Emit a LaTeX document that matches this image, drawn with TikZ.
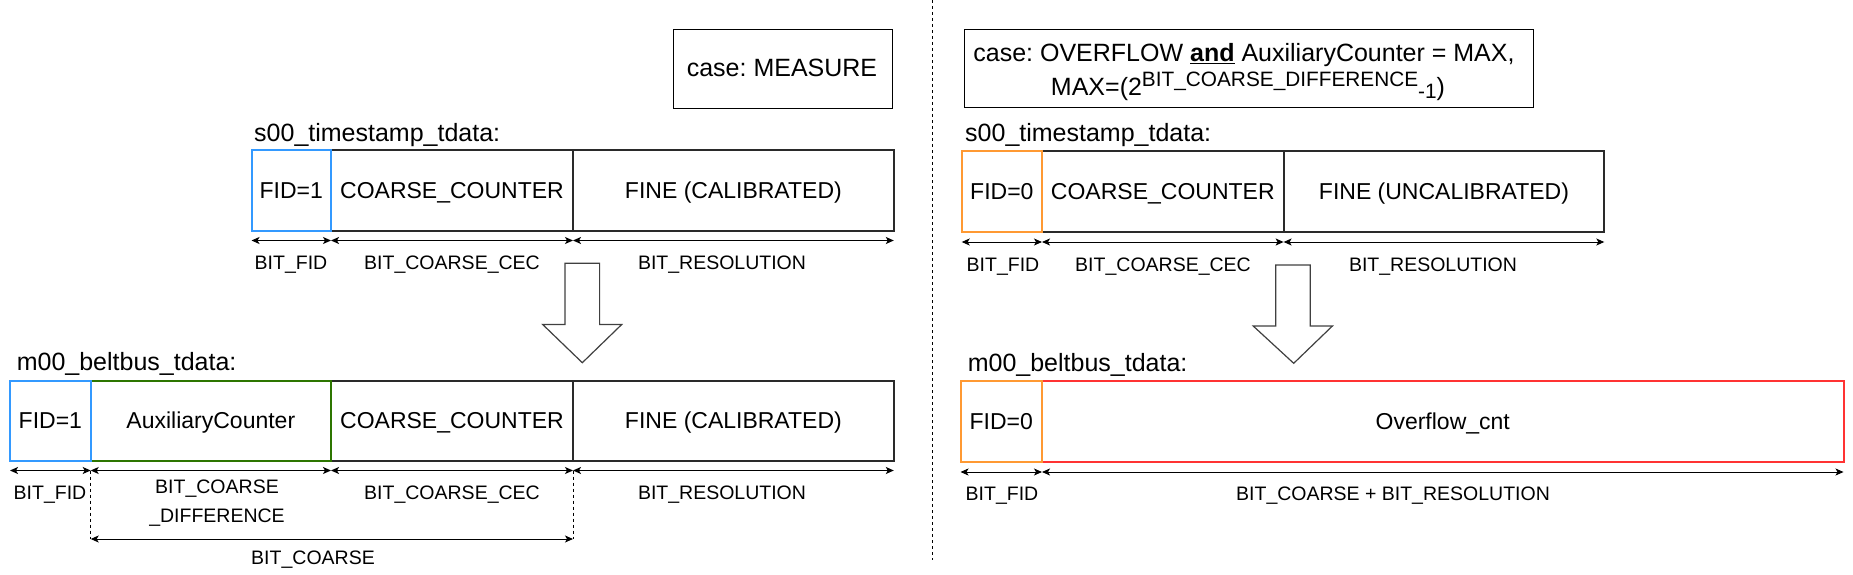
\documentclass[tikz,border=0pt]{standalone}
\usepackage{fontspec}
\setmainfont{Liberation Sans}
\usetikzlibrary{arrows.meta}
\definecolor{fidblue}{HTML}{3399FF}
\definecolor{auxgreen}{HTML}{2D7600}
\definecolor{fidorange}{HTML}{FF9933}
\definecolor{ovred}{HTML}{FF3333}
\definecolor{boxblack}{HTML}{2A2A2A}
\frenchspacing
\begin{document}
\begin{tikzpicture}[x=1pt,y=-1pt,
  fld/.style={draw=boxblack, line width=2pt, inner sep=0pt, outer sep=0pt, anchor=north west,
    text height=16.5pt, text depth=0pt, font=\fontsize{23}{27}\selectfont},
  ttl/.style={anchor=base west, inner sep=0pt, font=\fontsize{25}{30}\selectfont},
  casetxt/.style={anchor=base, inner sep=0pt, font=\fontsize{25}{30}\selectfont},
  lbl/.style={anchor=base, inner sep=0pt, font=\fontsize{19.5}{23}\selectfont},
  dim/.style={line width=1pt, {Stealth[length=8pt,width=7pt,inset=2pt]}-{Stealth[length=8pt,width=7pt,inset=2pt]}},
  casebox/.style={draw, line width=1pt, inner sep=0pt, outer sep=0pt, anchor=north west},
  guide/.style={line width=1pt, dash pattern=on 3pt off 3pt},
  blockarrow/.style={draw=black!75, line width=1.2pt, fill=white, line join=miter}
]
\useasboundingbox (0,0) rectangle (1853,575);

% separator
\coordinate (sepTop) at (932,0);
\coordinate (sepBot) at (932,560);
\draw[guide] (sepTop) -- (sepBot);

% ---------- left: case MEASURE ----------
\node[casebox, minimum width=219.6pt, minimum height=79pt] (caseM) at (673,30) {};
\node[casetxt] (caseMt) at (782,77) {case: MEASURE};

\node[ttl] (ts) at (254,142) {s00\_timestamp\_tdata:};
\node[fld, minimum width=242pt, minimum height=80pt] (tCoarse) at (331,150.5) {COARSE\_COUNTER};
\node[fld, minimum width=320.8pt, minimum height=80pt] (tFine) at (573,150.5) {FINE (CALIBRATED)};
\node[fld, draw=fidblue, minimum width=79.5pt, minimum height=80pt] (tFid) at (251.5,150.5) {FID=1};

\draw[dim] ([yshift=-10pt]tFid.south west) -- ([yshift=-10pt]tFid.south east);
\draw[dim] ([yshift=-10pt]tCoarse.south west) -- ([yshift=-10pt]tCoarse.south east);
\draw[dim] ([yshift=-10pt]tFine.south west) -- ([yshift=-10pt]tFine.south east);
\node[lbl] (tl1) at (291,269) {BIT\_FID};
\node[lbl] (tl2) at (452,269) {BIT\_COARSE\_CEC};
\node[lbl] (tl3) at (722,269) {BIT\_RESOLUTION};

\draw[blockarrow] (565,263.3) -- (599.6,263.3) -- (599.6,324.5) -- (621.7,324.5) -- (582.3,362.7) -- (542.7,324.5) -- (565,324.5) -- cycle;

\node[ttl] (bs) at (16.6,370) {m00\_beltbus\_tdata:};
\node[fld, minimum width=242pt, minimum height=80pt] (bCoarse) at (331,380.5) {COARSE\_COUNTER};
\node[fld, minimum width=320.8pt, minimum height=80pt] (bFine) at (573,380.5) {FINE (CALIBRATED)};
\node[fld, draw=auxgreen, minimum width=240.3pt, minimum height=80pt] (bAux) at (90.7,380.5) {AuxiliaryCounter};
\node[fld, draw=fidblue, minimum width=80.7pt, minimum height=80pt] (bFid) at (10,380.5) {FID=1};

\draw[dim] ([yshift=-10pt]bFid.south west) -- ([yshift=-10pt]bFid.south east);
\draw[dim] ([yshift=-10pt]bAux.south west) -- ([yshift=-10pt]bAux.south east);
\draw[dim] ([yshift=-10pt]bCoarse.south west) -- ([yshift=-10pt]bCoarse.south east);
\draw[dim] ([yshift=-10pt]bFine.south west) -- ([yshift=-10pt]bFine.south east);
\draw[guide] ([yshift=-10pt]bAux.south west) -- ([yshift=-78.5pt]bAux.south west);
\draw[guide] ([yshift=-10pt]bCoarse.south east) -- ([yshift=-78.5pt]bCoarse.south east);
\draw[dim] ([yshift=-78.5pt]bAux.south west) -- ([yshift=-78.5pt]bCoarse.south east);
\node[lbl] (bl1) at (50,499) {BIT\_FID};
\node[lbl] (bl2a) at (217,493) {BIT\_COARSE};
\node[lbl] (bl2b) at (217,522.7) {\_DIFFERENCE};
\node[lbl] (bl3) at (452,499) {BIT\_COARSE\_CEC};
\node[lbl] (bl4) at (722,499) {BIT\_RESOLUTION};
\node[lbl] (bl5) at (313,564) {BIT\_COARSE};

% ---------- right: case OVERFLOW ----------
\node[casebox, minimum width=568.4pt, minimum height=78pt] (caseO) at (964.6,30) {};
\node[casetxt] (caseOa) at (1244,62) {case: OVERFLOW \underline{\textbf{and}} AuxiliaryCounter = MAX,};
\node[casetxt] (caseOb) at (1248,95.5) {MAX=(2\raisebox{9pt}{\fontsize{20.8}{25}\selectfont BIT\_COARSE\_DIFFERENCE}\raisebox{-3pt}{\fontsize{20.8}{25}\selectfont -1})};

\node[ttl] (rts) at (965,142) {s00\_timestamp\_tdata:};
\node[fld, minimum width=241.6pt, minimum height=81pt] (rtCoarse) at (1042,151) {COARSE\_COUNTER};
\node[fld, minimum width=320.7pt, minimum height=81pt] (rtFine) at (1283.6,151) {FINE (UNCALIBRATED)};
\node[fld, draw=fidorange, minimum width=80.3pt, minimum height=81pt] (rtFid) at (961.7,151) {FID=0};

\draw[dim] ([yshift=-10pt]rtFid.south west) -- ([yshift=-10pt]rtFid.south east);
\draw[dim] ([yshift=-10pt]rtCoarse.south west) -- ([yshift=-10pt]rtCoarse.south east);
\draw[dim] ([yshift=-10pt]rtFine.south west) -- ([yshift=-10pt]rtFine.south east);
\node[lbl] (rtl1) at (1003,271) {BIT\_FID};
\node[lbl] (rtl2) at (1163,271) {BIT\_COARSE\_CEC};
\node[lbl] (rtl3) at (1433,271) {BIT\_RESOLUTION};

\draw[blockarrow] (1275.8,265) -- (1310.3,265) -- (1310.3,326) -- (1332.4,326) -- (1293.7,363.3) -- (1253.2,326) -- (1275.8,326) -- cycle;

\node[ttl] (rbs) at (967.6,371) {m00\_beltbus\_tdata:};
\node[fld, draw=ovred, minimum width=801.5pt, minimum height=81pt] (rbOver) at (1042,381) {Overflow\_cnt};
\node[fld, draw=fidorange, minimum width=81.5pt, minimum height=81pt] (rbFid) at (960.5,381) {FID=0};

\draw[dim] ([yshift=-10pt]rbFid.south west) -- ([yshift=-10pt]rbFid.south east);
\draw[dim] ([yshift=-10pt]rbOver.south west) -- ([yshift=-10pt]rbOver.south east);
\node[lbl] (rbl1) at (1002,500) {BIT\_FID};
\node[lbl] (rbl2) at (1393,500) {BIT\_COARSE + BIT\_RESOLUTION};
\end{tikzpicture}
\end{document}
